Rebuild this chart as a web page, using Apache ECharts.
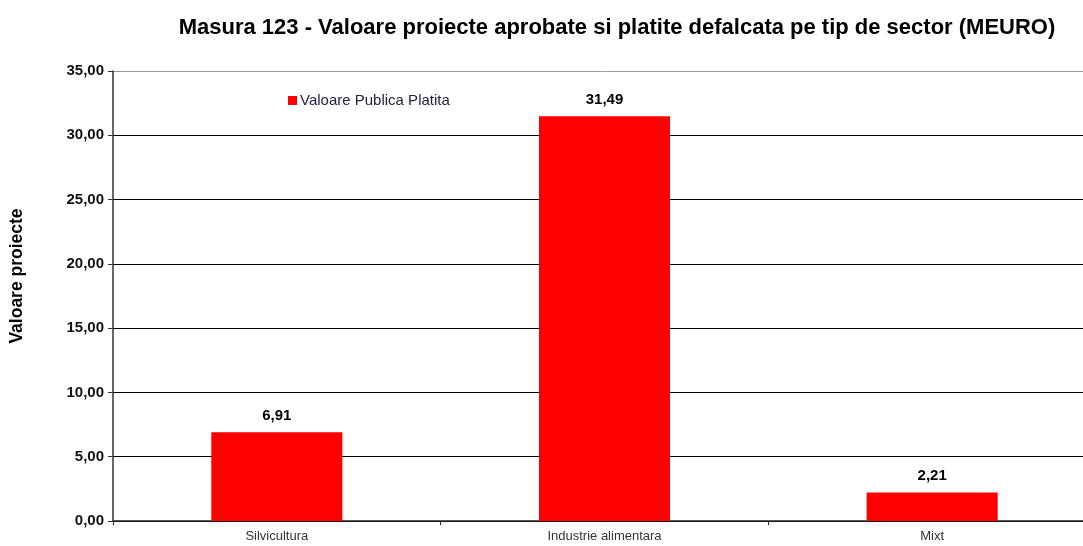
<!DOCTYPE html>
<html>
<head>
<meta charset="utf-8">
<script src="https://cdn.jsdelivr.net/npm/echarts@6/dist/echarts.min.js"></script>
<style>
  html, body { margin: 0; padding: 0; background: #fff; overflow: hidden; }
  #chart { width: 1096px; height: 546px; }
</style>
</head>
<body>
<div id="chart"></div>
<script>
const categorii = ['Silvicultura', 'Industrie alimentara', 'Mixt'];
const valoriPlatite = [6.91, 31.49, 2.21];
const numeSerie = 'Valoare Publica Platita';

function fmtRo(v) {
  return Number(v).toFixed(2).replace('.', ',');
}

// plotul continua putin dincolo de marginea dreapta, ca in original
const chart = echarts.init(document.getElementById('chart'));
chart.setOption({
  animation: false,
  textStyle: { fontFamily: 'Liberation Sans, Arial, sans-serif' },
  title: {
    text: 'Masura 123 - Valoare proiecte aprobate si platite defalcata pe tip de sector (MEURO)',
    left: 612,
    top: 12,
    textAlign: 'center',
    textStyle: { fontSize: 22, fontWeight: 'bold', color: '#000' }
  },
  legend: {
    left: 283,
    top: 88,
    itemWidth: 9,
    itemHeight: 9,
    itemGap: 4,
    icon: 'rect',
    textStyle: { fontSize: 15, color: '#2a2040', padding: [0, 0, 0, -2] },
    data: [numeSerie]
  },
  grid: { left: 111, right: 0, top: 71, bottom: 25, containLabel: false },
  xAxis: {
    type: 'category',
    data: categorii,
    axisLine: { lineStyle: { color: '#222', width: 1.5 } },
    axisTick: { show: true, alignWithLabel: false, length: 4, lineStyle: { color: '#222' } },
    axisLabel: { fontSize: 13, color: '#333', margin: 9 }
  },
  yAxis: {
    type: 'value',
    min: 0,
    max: 35,
    interval: 5,
    name: 'Valoare proiecte',
    nameLocation: 'middle',
    nameGap: 87,
    nameTextStyle: { fontSize: 17.5, fontWeight: 'bold', color: '#000', padding: [0, 0, 0, 40] },
    axisLine: { show: true, lineStyle: { color: '#333', width: 1.5 } },
    axisTick: { show: true, length: 5, lineStyle: { color: '#333' } },
    axisLabel: { fontSize: 15, fontWeight: 'bold', color: '#111', margin: 9, formatter: fmtRo },
    splitLine: {
      lineStyle: { color: ['#000', '#000', '#000', '#000', '#000', '#000', '#000', '#999'], width: 1 }
    }
  },
  series: [{
    name: numeSerie,
    type: 'bar',
    data: valoriPlatite,
    barWidth: '40%',
    itemStyle: { color: '#ff0000' },
    label: {
      show: true,
      position: 'top',
      distance: 9,
      fontSize: 15,
      fontWeight: 'bold',
      color: '#000',
      formatter: p => fmtRo(p.value)
    }
  }]
});
</script>
</body>
</html>
